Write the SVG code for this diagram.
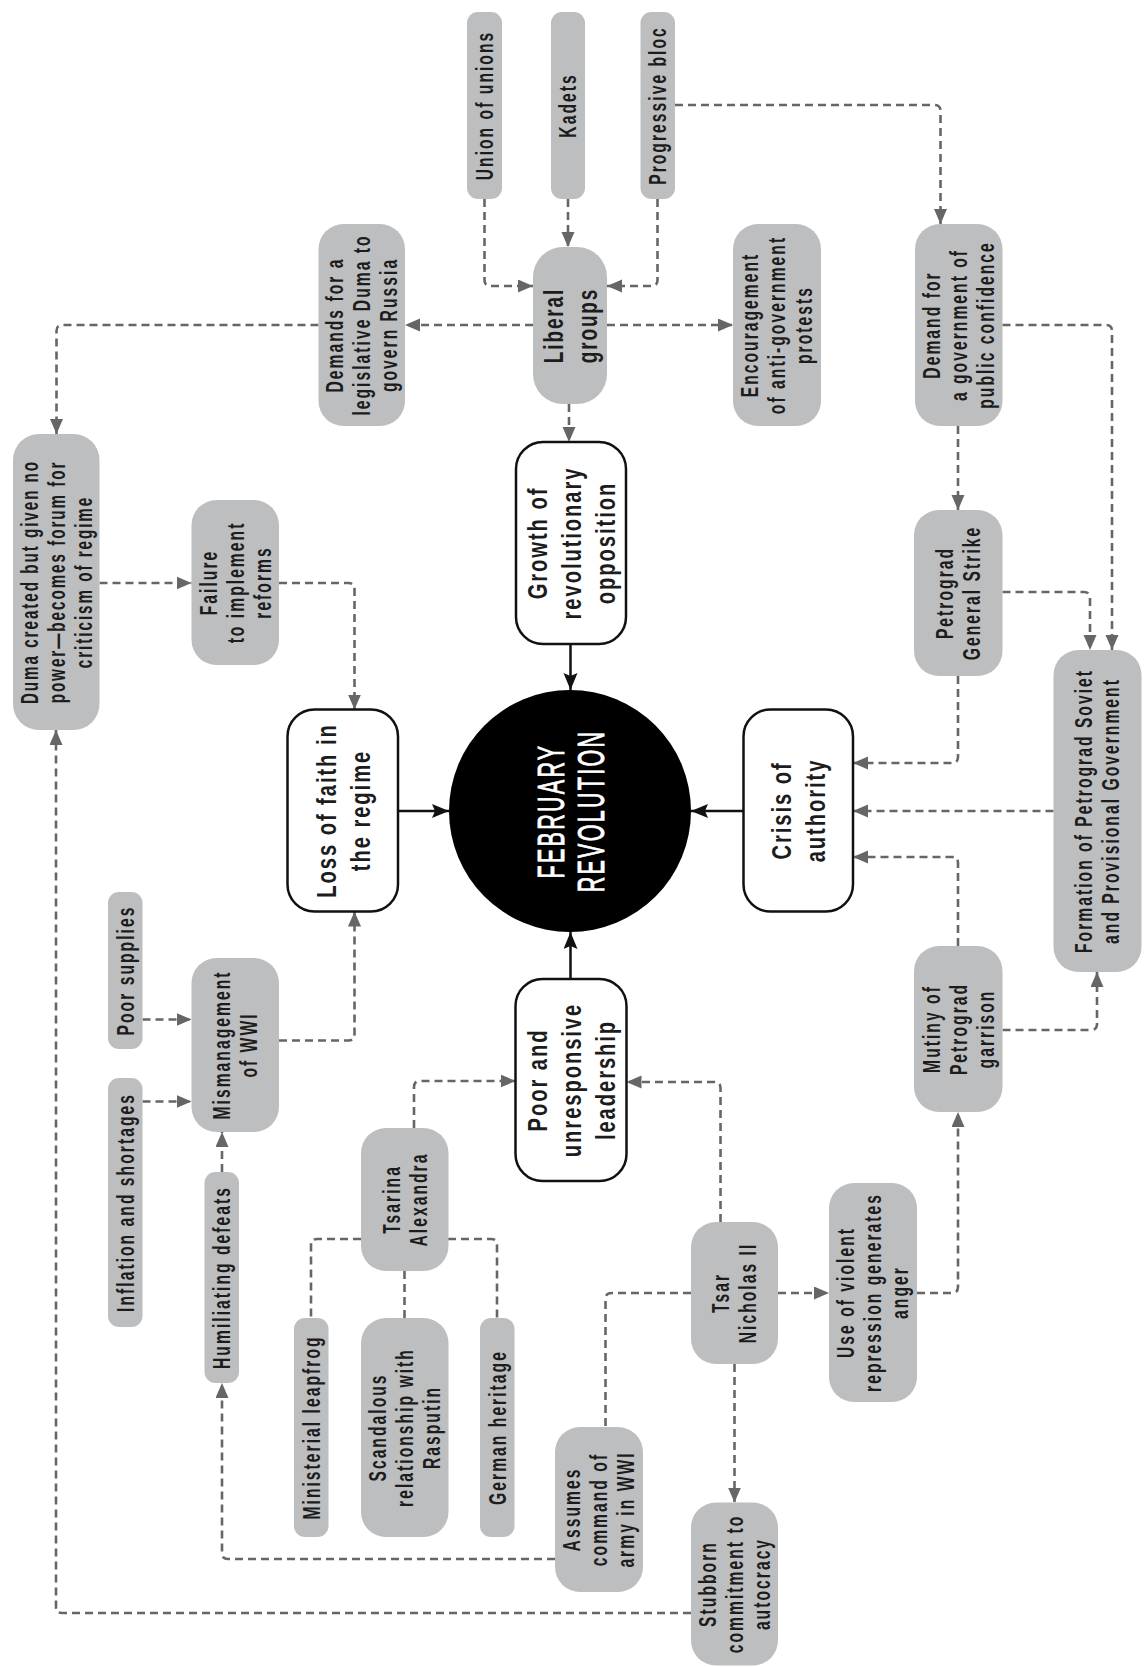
<svg xmlns="http://www.w3.org/2000/svg" width="1144" height="1667" viewBox="0 0 1144 1667">
<defs>
<style>
.g rect{fill:#bdbec0}
.w rect{fill:#fff;stroke:#111;stroke-width:2.5}
.t{font-family:"Liberation Sans",Arial,sans-serif;font-weight:bold;font-size:23px;letter-spacing:3px;fill:#1c1c1c;text-anchor:middle}
.tl{font-size:28px;letter-spacing:2.7px}
.c{fill:none;stroke:#666;stroke-width:2.6;stroke-dasharray:8 5}
.a{marker-end:url(#ga)}
.s{fill:none;stroke:#111;stroke-width:2.5;marker-end:url(#ba)}
.ct{font-family:"Liberation Sans",Arial,sans-serif;font-size:37px;letter-spacing:4px;fill:#fff;stroke:#fff;stroke-width:0.9;text-anchor:middle}
</style>
<marker id="ga" markerUnits="userSpaceOnUse" markerWidth="16" markerHeight="14" refX="15" refY="6.5" orient="auto"><path d="M0,0 L15,6.5 L0,13 Z" fill="#666"/></marker>
<marker id="ba" markerUnits="userSpaceOnUse" markerWidth="18" markerHeight="15" refX="17" refY="7" orient="auto"><path d="M0,0 L17,7 L0,14 L3,7 Z" fill="#111"/></marker>
</defs>
<rect width="1144" height="1667" fill="#fff"/>

<g id="connectors">
<path class="c a" d="M484.5,199 V280 Q484.5,286 490.5,286 H533"/>
<path class="c a" d="M568,199 V247"/>
<path class="c a" d="M657.5,199 V280 Q657.5,286 651.5,286 H607"/>
<path class="c a" d="M675,105 H934.5 Q940.5,105 940.5,111 V224"/>
<path class="c a" d="M533,325 H405"/>
<path class="c a" d="M318.5,325 H62.5 Q56.5,325 56.5,331 V434"/>
<path class="c a" d="M607,325 H733"/>
<path class="c a" d="M569,404 V442"/>
<path class="c a" d="M958,426 V510"/>
<path class="c a" d="M1002.5,325 H1106 Q1112,325 1112,331 V650"/>
<path class="c a" d="M1002.5,592 H1084 Q1090,592 1090,598 V650"/>
<path class="c a" d="M958,676 V757 Q958,763 952,763 H853"/>
<path class="c a" d="M1053.5,811 H853"/>
<path class="c a" d="M958,946 V863 Q958,857 952,857 H853"/>
<path class="c a" d="M1002.5,1030 H1091 Q1097,1030 1097,1024 V972"/>
<path class="c a" d="M917,1293 H952 Q958,1293 958,1287 V1112"/>
<path class="c a" d="M778,1293 H829"/>
<path class="c a" d="M720.5,1222 V1088 Q720.5,1082 714.5,1082 H626.5"/>
<path class="c a" d="M734.5,1364 V1502.5"/>
<path class="c" d="M691,1293 H611.5 Q605.5,1293 605.5,1299 V1427"/>
<path class="c a" d="M555,1559 H228 Q222,1559 222,1553 V1383"/>
<path class="c a" d="M691,1613 H62 Q56,1613 56,1607 V730"/>
<path class="c a" d="M222,1172 V1132"/>
<path class="c a" d="M142.5,1019.5 H191.5"/>
<path class="c a" d="M142.5,1101.5 H191.5"/>
<path class="c a" d="M279,1040.5 H348.5 Q354.5,1040.5 354.5,1034.5 V911.5"/>
<path class="c a" d="M279,583 H348.5 Q354.5,583 354.5,589 V709.5"/>
<path class="c a" d="M99.5,583 H191.5"/>
<path class="c a" d="M414,1128 V1087 Q414,1081 420,1081 H515.5"/>
<path class="c" d="M361,1239 H317 Q311,1239 311,1245 V1318"/>
<path class="c" d="M448,1239 H491 Q497,1239 497,1245 V1318"/>
<path class="c" d="M404.5,1271 V1318"/>
<path class="s" d="M570.5,644 V690"/>
<path class="s" d="M398,811 H449"/>
<path class="s" d="M743.5,811 H691"/>
<path class="s" d="M570.5,979 V932"/>
</g>

<g id="n-center">
<circle cx="570" cy="811" r="121" fill="#000"/>
<g transform="translate(570,811) rotate(-90) scale(0.58,1)"><text class="ct"><tspan x="0" y="-6.5">FEBRUARY</tspan><tspan x="0" y="34.5">REVOLUTION</tspan></text></g>
</g>

<g id="n-union" class="g"><rect x="467" y="12" width="35" height="187" rx="11"/><g transform="translate(484.5,105.5) rotate(-90) scale(0.68,1)"><text class="t"><tspan x="0" y="8.3">Union of unions</tspan></text></g></g>
<g id="n-kadets" class="g"><rect x="551" y="12" width="34" height="187" rx="11"/><g transform="translate(568,105.5) rotate(-90) scale(0.68,1)"><text class="t"><tspan x="0" y="8.3">Kadets</tspan></text></g></g>
<g id="n-progressive" class="g"><rect x="640.5" y="12" width="34.5" height="187" rx="11"/><g transform="translate(657.75,105.5) rotate(-90) scale(0.68,1)"><text class="t"><tspan x="0" y="8.3">Progressive bloc</tspan></text></g></g>
<g id="n-liberal" class="g"><rect x="533" y="247" width="74" height="157" rx="30"/><g transform="translate(570,325.5) rotate(-90) scale(0.68,1)"><text class="t tl"><tspan x="0" y="-7">Liberal</tspan><tspan x="0" y="27">groups</tspan></text></g></g>
<g id="n-demands" class="g"><rect x="318.5" y="224" width="86.5" height="202" rx="25"/><g transform="translate(361.75,325) rotate(-90) scale(0.68,1)"><text class="t"><tspan x="0" y="-18.7">Demands for a</tspan><tspan x="0" y="8.3">legislative Duma to</tspan><tspan x="0" y="35.3">govern Russia</tspan></text></g></g>
<g id="n-encouragement" class="g"><rect x="733" y="224" width="88" height="202" rx="25"/><g transform="translate(777,325) rotate(-90) scale(0.68,1)"><text class="t"><tspan x="0" y="-18.7">Encouragement</tspan><tspan x="0" y="8.3">of anti-government</tspan><tspan x="0" y="35.3">protests</tspan></text></g></g>
<g id="n-demand-gov" class="g"><rect x="915" y="224" width="87.5" height="202" rx="25"/><g transform="translate(958.75,325) rotate(-90) scale(0.68,1)"><text class="t"><tspan x="0" y="-18.7">Demand for</tspan><tspan x="0" y="8.3">a government of</tspan><tspan x="0" y="35.3">public confidence</tspan></text></g></g>
<g id="n-duma" class="g"><rect x="13" y="434" width="86.5" height="296" rx="26"/><g transform="translate(56.25,582) rotate(-90) scale(0.66,1)"><text class="t"><tspan x="0" y="-18.7">Duma created but given no</tspan><tspan x="0" y="8.3">power—becomes forum for</tspan><tspan x="0" y="35.3">criticism of regime</tspan></text></g></g>
<g id="n-failure" class="g"><rect x="191.5" y="500" width="87.5" height="165" rx="25"/><g transform="translate(235.25,582.5) rotate(-90) scale(0.68,1)"><text class="t"><tspan x="0" y="-18.7">Failure</tspan><tspan x="0" y="8.3">to implement</tspan><tspan x="0" y="35.3">reforms</tspan></text></g></g>
<g id="n-strike" class="g"><rect x="914" y="510" width="88.5" height="166" rx="25"/><g transform="translate(958.25,593) rotate(-90) scale(0.68,1)"><text class="t"><tspan x="0" y="-5.2">Petrograd</tspan><tspan x="0" y="21.8">General Strike</tspan></text></g></g>
<g id="n-formation" class="g"><rect x="1053.5" y="650" width="88" height="322" rx="25"/><g transform="translate(1097.5,811) rotate(-90) scale(0.68,1)"><text class="t"><tspan x="0" y="-5.2">Formation of Petrograd Soviet</tspan><tspan x="0" y="21.8">and Provisional Government</tspan></text></g></g>
<g id="n-mutiny" class="g"><rect x="914" y="946" width="88.5" height="166" rx="25"/><g transform="translate(958.25,1029) rotate(-90) scale(0.68,1)"><text class="t"><tspan x="0" y="-18.7">Mutiny of</tspan><tspan x="0" y="8.3">Petrograd</tspan><tspan x="0" y="35.3">garrison</tspan></text></g></g>
<g id="n-mismanagement" class="g"><rect x="191.5" y="958" width="87.5" height="174" rx="25"/><g transform="translate(235.25,1045) rotate(-90) scale(0.68,1)"><text class="t"><tspan x="0" y="-5.2">Mismanagement</tspan><tspan x="0" y="21.8">of WWI</tspan></text></g></g>
<g id="n-poor-supplies" class="g"><rect x="108" y="892" width="34.5" height="157" rx="11"/><g transform="translate(125.25,970.5) rotate(-90) scale(0.68,1)"><text class="t"><tspan x="0" y="8.3">Poor supplies</tspan></text></g></g>
<g id="n-inflation" class="g"><rect x="108" y="1078" width="34.5" height="249" rx="11"/><g transform="translate(125.25,1202.5) rotate(-90) scale(0.68,1)"><text class="t"><tspan x="0" y="8.3">Inflation and shortages</tspan></text></g></g>
<g id="n-humiliating" class="g"><rect x="204.5" y="1172" width="34.5" height="211" rx="11"/><g transform="translate(221.75,1277.5) rotate(-90) scale(0.68,1)"><text class="t"><tspan x="0" y="8.3">Humiliating defeats</tspan></text></g></g>
<g id="n-tsarina" class="g"><rect x="361" y="1128" width="87.5" height="143" rx="25"/><g transform="translate(404.75,1199.5) rotate(-90) scale(0.68,1)"><text class="t"><tspan x="0" y="-5.2">Tsarina</tspan><tspan x="0" y="21.8">Alexandra</tspan></text></g></g>
<g id="n-ministerial" class="g"><rect x="294" y="1318" width="34.5" height="219" rx="11"/><g transform="translate(311.25,1427.5) rotate(-90) scale(0.68,1)"><text class="t"><tspan x="0" y="8.3">Ministerial leapfrog</tspan></text></g></g>
<g id="n-scandalous" class="g"><rect x="361" y="1318" width="87.5" height="219" rx="25"/><g transform="translate(404.75,1427.5) rotate(-90) scale(0.68,1)"><text class="t"><tspan x="0" y="-18.7">Scandalous</tspan><tspan x="0" y="8.3">relationship with</tspan><tspan x="0" y="35.3">Rasputin</tspan></text></g></g>
<g id="n-german" class="g"><rect x="480" y="1318" width="34.5" height="219" rx="11"/><g transform="translate(497.25,1427.5) rotate(-90) scale(0.68,1)"><text class="t"><tspan x="0" y="8.3">German heritage</tspan></text></g></g>
<g id="n-assumes" class="g"><rect x="555" y="1427" width="88" height="165" rx="25"/><g transform="translate(599,1509.5) rotate(-90) scale(0.68,1)"><text class="t"><tspan x="0" y="-18.7">Assumes</tspan><tspan x="0" y="8.3">command of</tspan><tspan x="0" y="35.3">army in WWI</tspan></text></g></g>
<g id="n-tsar" class="g"><rect x="691" y="1222" width="87" height="142" rx="25"/><g transform="translate(734.5,1293) rotate(-90) scale(0.68,1)"><text class="t"><tspan x="0" y="-5.2">Tsar</tspan><tspan x="0" y="21.8">Nicholas II</tspan></text></g></g>
<g id="n-repression" class="g"><rect x="829" y="1183" width="88" height="219" rx="25"/><g transform="translate(873,1292.5) rotate(-90) scale(0.68,1)"><text class="t"><tspan x="0" y="-18.7">Use of violent</tspan><tspan x="0" y="8.3">repression generates</tspan><tspan x="0" y="35.3">anger</tspan></text></g></g>
<g id="n-stubborn" class="g"><rect x="691" y="1502.5" width="87" height="163" rx="25"/><g transform="translate(734.5,1584) rotate(-90) scale(0.68,1)"><text class="t"><tspan x="0" y="-18.7">Stubborn</tspan><tspan x="0" y="8.3">commitment to</tspan><tspan x="0" y="35.3">autocracy</tspan></text></g></g>

<g id="n-growth" class="w"><rect x="516" y="442" width="110" height="202" rx="27"/><g transform="translate(571,543) rotate(-90) scale(0.72,1)"><text class="t tl"><tspan x="0" y="-24">Growth of</tspan><tspan x="0" y="10">revolutionary</tspan><tspan x="0" y="44">opposition</tspan></text></g></g>
<g id="n-loss" class="w"><rect x="287.5" y="709.5" width="110.5" height="202" rx="27"/><g transform="translate(342.75,810.5) rotate(-90) scale(0.72,1)"><text class="t tl"><tspan x="0" y="-7">Loss of faith in</tspan><tspan x="0" y="27">the regime</tspan></text></g></g>
<g id="n-crisis" class="w"><rect x="743.5" y="709.5" width="109.5" height="202" rx="27"/><g transform="translate(798.25,810.5) rotate(-90) scale(0.72,1)"><text class="t tl"><tspan x="0" y="-7">Crisis of</tspan><tspan x="0" y="27">authority</tspan></text></g></g>
<g id="n-poor" class="w"><rect x="515.5" y="979" width="111" height="202" rx="27"/><g transform="translate(571,1080) rotate(-90) scale(0.72,1)"><text class="t tl"><tspan x="0" y="-24">Poor and</tspan><tspan x="0" y="10">unresponsive</tspan><tspan x="0" y="44">leadership</tspan></text></g></g>
</svg>
